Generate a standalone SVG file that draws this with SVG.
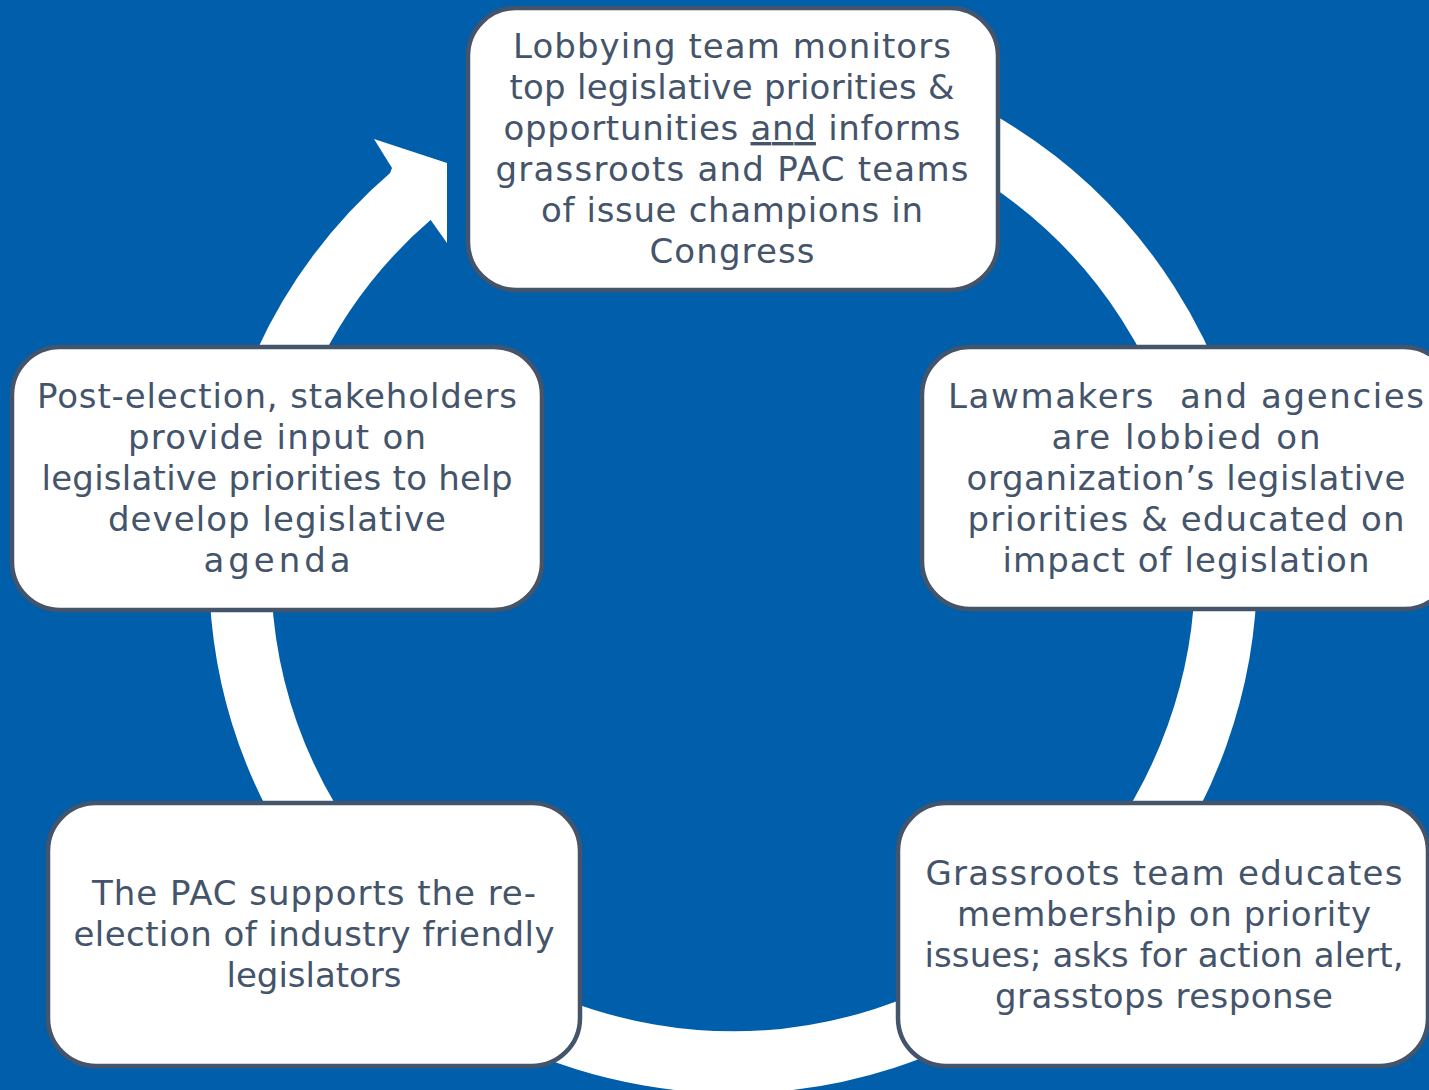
<svg xmlns="http://www.w3.org/2000/svg" width="1429" height="1090" viewBox="0 0 1429 1090">
<style>
.box{fill:#ffffff;stroke:#44546A;stroke-width:4.5}
.t{font-family:"DejaVu Sans","Liberation Sans",sans-serif;font-size:34px;fill:#44546A;text-anchor:middle}
.ring{fill:none;stroke:#ffffff;stroke-width:62}
</style>
<rect width="1429" height="1090" fill="#005EAA"/>
<g id="connectors">
<path class="ring" d="M 775 78 A 493 493 0 1 1 412 195"/>
<polygon points="392,168 374,139 447,163 447,243 430,219 410,226 383,192" fill="#ffffff"/>
</g>
<g id="node-top">
<rect class="box" x="468" y="8" width="530" height="282" rx="48"/>
<text class="t" x="732" y="58" textLength="438">Lobbying team monitors</text>
<text class="t" x="732" y="99" textLength="445">top legislative priorities &amp;</text>
<text class="t" x="732" y="140" textLength="457">opportunities <tspan text-decoration="underline">and</tspan> informs</text>
<text class="t" x="732" y="181" textLength="473">grassroots and PAC teams</text>
<text class="t" x="732" y="222" textLength="382">of issue champions in</text>
<text class="t" x="732" y="263" textLength="165">Congress</text>
</g>
<g id="node-right">
<rect class="box" x="922" y="347" width="530" height="262" rx="48"/>
<text class="t" x="1186" y="408" textLength="476" xml:space="preserve">Lawmakers  and agencies</text>
<text class="t" x="1186" y="449" textLength="269">are lobbied on</text>
<text class="t" x="1186" y="490" textLength="439">organization’s legislative</text>
<text class="t" x="1186" y="531" textLength="437">priorities &amp; educated on</text>
<text class="t" x="1186" y="572" textLength="367">impact of legislation</text>
</g>
<g id="node-bottom-right">
<rect class="box" x="898" y="803" width="530" height="263" rx="48"/>
<text class="t" x="1164" y="885" textLength="477">Grassroots team educates</text>
<text class="t" x="1164" y="926" textLength="414">membership on priority</text>
<text class="t" x="1164" y="967" textLength="479">issues; asks for action alert,</text>
<text class="t" x="1164" y="1008" textLength="338">grasstops response</text>
</g>
<g id="node-bottom-left">
<rect class="box" x="48" y="803" width="532" height="263" rx="48"/>
<text class="t" x="314" y="905" textLength="444">The PAC supports the re-</text>
<text class="t" x="314" y="946" textLength="481">election of industry friendly</text>
<text class="t" x="314" y="987" textLength="175">legislators</text>
</g>
<g id="node-left">
<rect class="box" x="12" y="347" width="530" height="263" rx="48"/>
<text class="t" x="277" y="408" textLength="480">Post-election, stakeholders</text>
<text class="t" x="277" y="449" textLength="298">provide input on</text>
<text class="t" x="277" y="490" textLength="471">legislative priorities to help</text>
<text class="t" x="277" y="531" textLength="338">develop legislative</text>
<text class="t" x="277" y="572" textLength="147">agenda</text>
</g>
</svg>
